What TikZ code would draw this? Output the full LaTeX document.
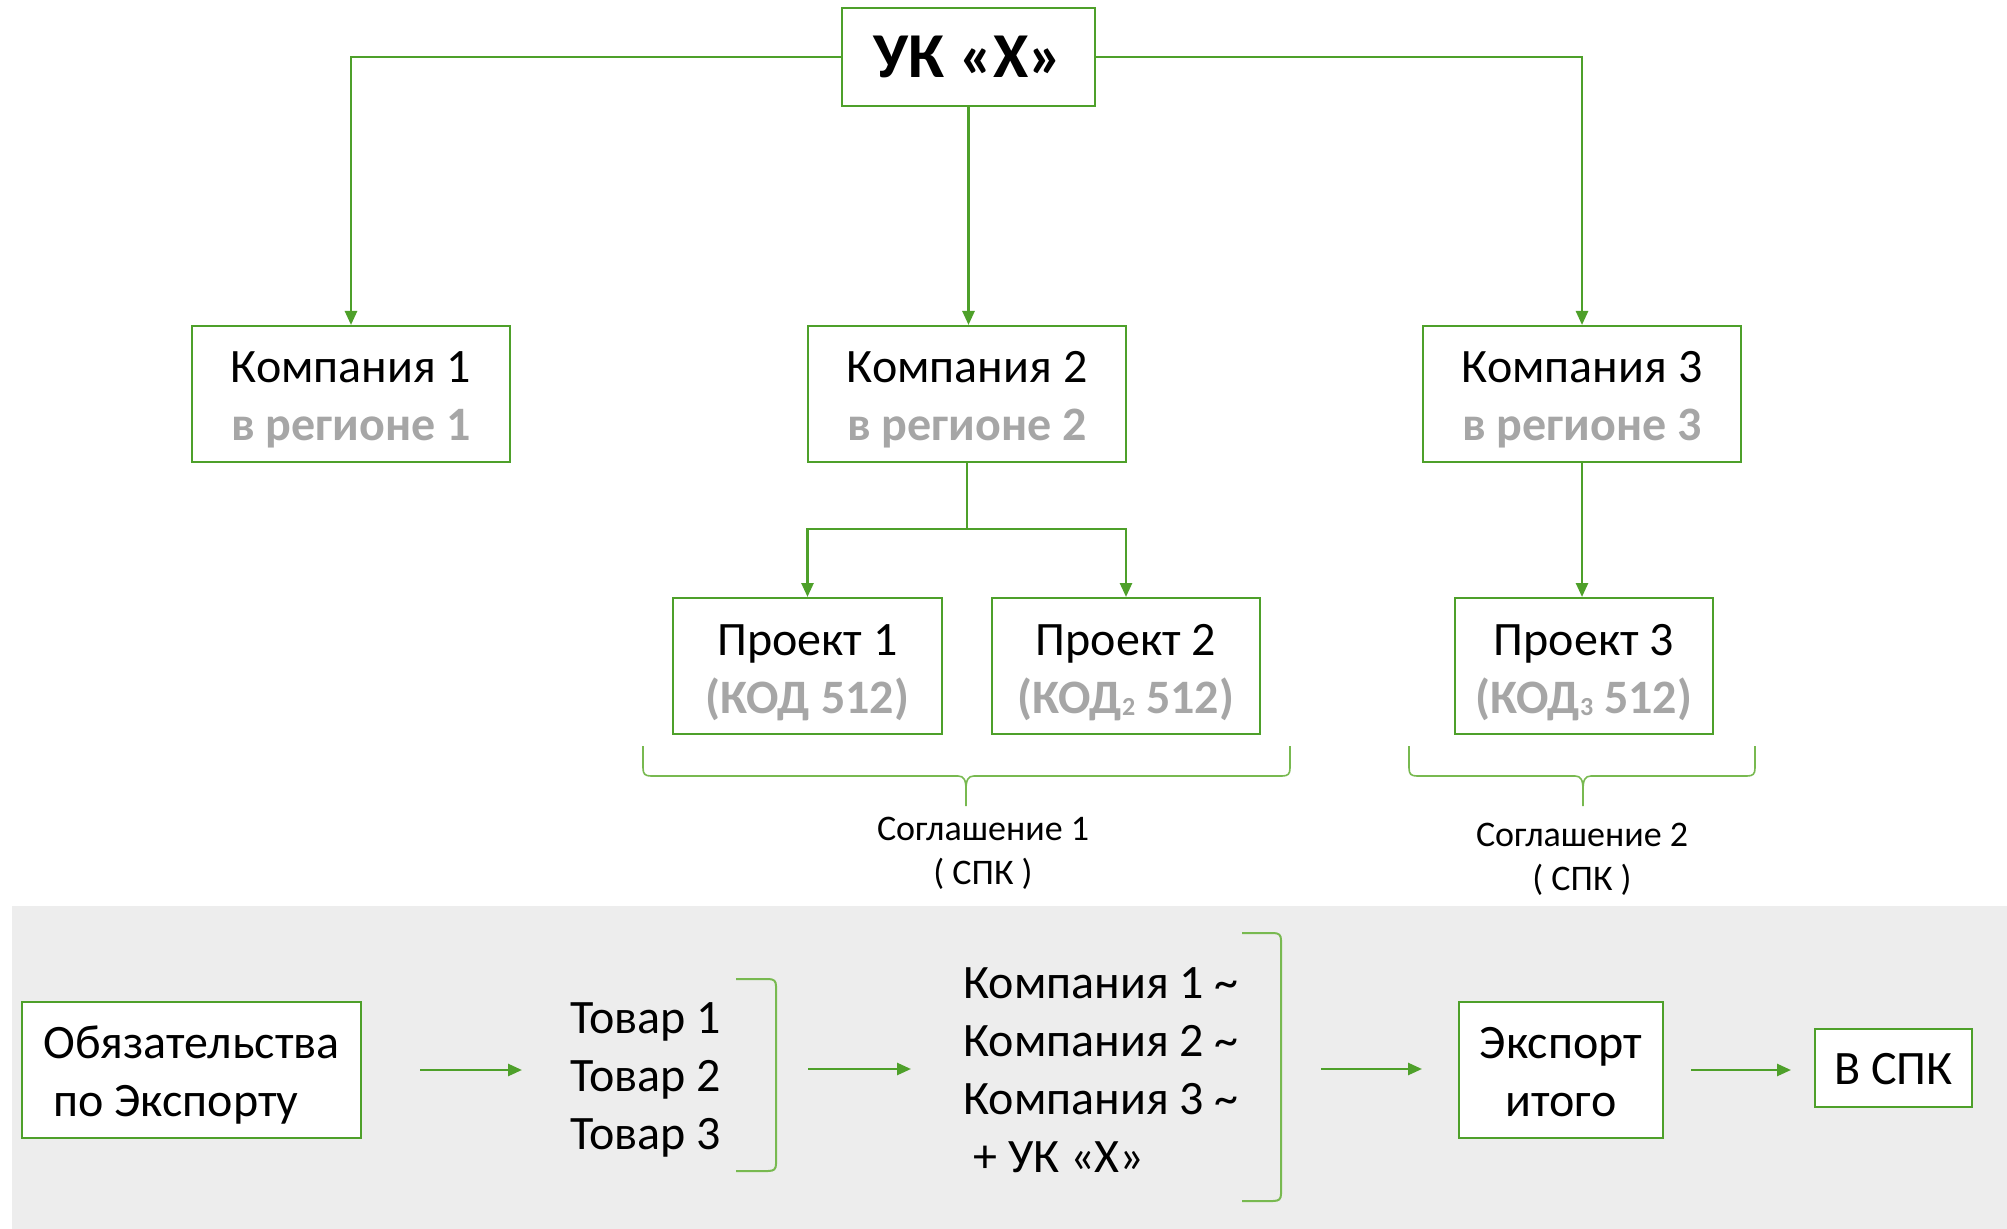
\documentclass[tikz,border=0pt]{standalone}
\usepackage{fontspec}
\setmainfont{Carlito}
\usetikzlibrary{arrows.meta}
\definecolor{lgreen}{RGB}{78,160,42}
\definecolor{bgreen}{RGB}{120,185,80}
\definecolor{txtgray}{RGB}{166,166,166}
\definecolor{bggray}{RGB}{237,237,237}
\tikzset{
  box/.style={draw=lgreen, line width=1pt, fill=white, align=center, inner sep=0pt},
  conn/.style={draw=lgreen, line width=1.3pt, -{Triangle[length=7pt,width=6pt]}},
  plainline/.style={draw=lgreen, line width=1.3pt},
  bracegr/.style={draw=bgreen, line width=0.8pt},
  big/.style={font=\fontsize{24}{29}\selectfont},
  small/.style={font=\fontsize{18}{22}\selectfont, align=center},
}
\newcommand{\grayb}[1]{{\color{txtgray}\bfseries #1}}
% two-line box text with fixed top/bottom struts
\newcommand{\twoline}[4]{\rule{0pt}{#1}#3\\#4\rule[-#2]{0pt}{#2}}
\newcommand{\oneline}[3]{\rule{0pt}{#1}#3\rule[-#2]{0pt}{#2}}
\begin{document}
\begin{tikzpicture}[x=0.5pt,y=-0.5pt]
\useasboundingbox (0,0) rectangle (2007,1229);
% bottom background
\fill[bggray] (12,906) rectangle (2007,1229);

% top nodes
\node[box, minimum width=126.5pt, minimum height=49pt, font=\fontsize{32}{38}\selectfont\bfseries] (uk) at (968.5,57) {\oneline{29pt}{8pt}{УК «Х»}};
\node[box, big, minimum width=159pt, minimum height=68pt] (c1) at (351,394) {\twoline{26pt}{8pt}{Компания 1}{\grayb{в регионе 1}}};
\node[box, big, minimum width=159pt, minimum height=68pt] (c2) at (967,394) {\twoline{26pt}{8pt}{Компания 2}{\grayb{в регионе 2}}};
\node[box, big, minimum width=159pt, minimum height=68pt] (c3) at (1582,394) {\twoline{26pt}{8pt}{Компания 3}{\grayb{в регионе 3}}};
\node[box, big, minimum width=134.5pt, minimum height=68pt] (p1) at (807.5,666) {\twoline{26pt}{8pt}{Проект 1}{\grayb{(КОД 512)}}};
\node[box, big, minimum width=134pt, minimum height=68pt] (p2) at (1126,666) {\twoline{26pt}{8pt}{Проект 2}{\grayb{(КОД\raisebox{-1pt}{\fontsize{13}{13}\selectfont 2} 512)}}};
\node[box, big, minimum width=129pt, minimum height=68pt] (p3) at (1584,666) {\twoline{26pt}{8pt}{Проект 3}{\grayb{(КОД\raisebox{-1pt}{\fontsize{13}{13}\selectfont 3} 512)}}};

% top connectors
\draw[conn] (uk.west) -| (c1.north);
\draw[conn] (uk.east) -| (c3.north);
\draw[conn] (uk.south) -- (uk.south |- c2.north);
\coordinate (j2) at (967,529);
\draw[plainline] (c2.south) -- (j2);
\draw[conn] (j2) -| (p1.north);
\draw[conn] (j2) -| (p2.north);
\draw[conn] (c3.south) -- (c3.south |- p3.north);

% braces
\draw[bracegr] (643,746) -- (643,768) .. controls (643,774) and (645,776) .. (651,776) -- (958,776) .. controls (964,776) and (966,780) .. (966,790) -- (966,806);
\draw[bracegr] (1290,746) -- (1290,768) .. controls (1290,774) and (1288,776) .. (1282,776) -- (974,776) .. controls (968,776) and (966,780) .. (966,790);
\draw[bracegr] (1409,746) -- (1409,768) .. controls (1409,774) and (1411,776) .. (1417,776) -- (1575,776) .. controls (1581,776) and (1583,780) .. (1583,790) -- (1583,806);
\draw[bracegr] (1755,746) -- (1755,768) .. controls (1755,774) and (1753,776) .. (1747,776) -- (1591,776) .. controls (1585,776) and (1583,780) .. (1583,790);
\node[small] (s1) at (983,853) {Соглашение 1\\( СПК )};
\node[small] (s2) at (1582,859) {Соглашение 2\\( СПК )};

% bottom row
\node[box, big, align=left, minimum width=169.5pt, minimum height=68pt] (obl) at (191.5,1070) {\twoline{25.5pt}{8pt}{Обязательства}{\hspace*{5pt}по Экспорту}};
\node[big, align=left, anchor=west, inner sep=0pt] (tov) at (570,1080) {Товар 1\\Товар 2\\Товар 3};
\node[big, align=left, anchor=west, inner sep=0pt] (comp) at (963,1070) {Компания 1 \textasciitilde\\Компания 2 \textasciitilde\\Компания 3 \textasciitilde\\\hspace*{5pt}+ УК «Х»};
\node[box, big, minimum width=102pt, minimum height=68pt] (exp) at (1561,1070) {\twoline{25.5pt}{8pt}{Экспорт}{итого}};
\node[box, big, minimum width=78.5pt, minimum height=39pt] (spk) at (1893.5,1068) {\oneline{24.5pt}{8pt}{В СПК}};

% brackets
\draw[bracegr, line width=1pt] (736,979) -- (768,979) .. controls (774,979) and (776,981) .. (776,986) -- (776,1164) .. controls (776,1169) and (774,1171) .. (768,1171) -- (736,1171);
\draw[bracegr, line width=1pt] (1242,933) -- (1273,933) .. controls (1279,933) and (1281,935) .. (1281,940) -- (1281,1194) .. controls (1281,1199) and (1279,1201) .. (1273,1201) -- (1242,1201);
\coordinate (br1) at (776,1069);
\coordinate (br2) at (1281,1069);

% bottom arrows
\draw[conn, shorten <=29pt, shorten >=24pt] (obl.east) -- (obl.east -| tov.west);
\draw[conn, shorten <=16pt, shorten >=26pt] (br1) -- (br1 -| comp.west);
\draw[conn, shorten <=20pt, shorten >=18pt] (br2) -- (br2 -| exp.west);
\draw[conn, shorten <=13.5pt, shorten >=11.5pt] (exp.east) -- (exp.east -| spk.west);
\end{tikzpicture}
\end{document}
